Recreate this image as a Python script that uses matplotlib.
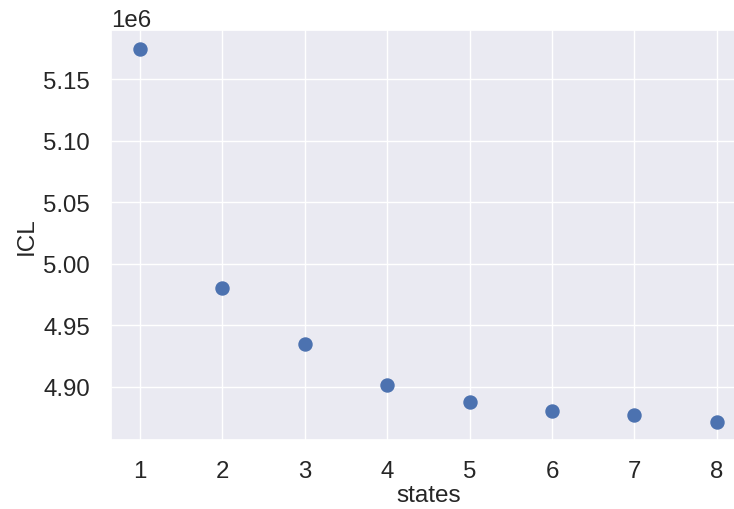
import numpy as np
import matplotlib
matplotlib.use('Agg')
import matplotlib.pyplot as plt
import seaborn as sns

# ICL score per number of hidden states
states = [1, 2, 3, 4, 5, 6, 7, 8]
icl = [5.1750e6, 4.9805e6, 4.9345e6, 4.9010e6, 4.8870e6, 4.8800e6, 4.8765e6, 4.8715e6]

sns.set_theme(style='darkgrid', font_scale=1.57)
plt.rcParams['font.family'] = ['Liberation Sans', 'DejaVu Sans']

fig, ax = plt.subplots(figsize=(7.34, 5.1), dpi=100)
ax.scatter(states, icl, s=88)
ax.set_xlabel('states', fontsize=17.5, labelpad=2)
ax.set_ylabel('ICL', fontsize=17.5)
ax.set_xticks(states)
ax.tick_params(axis='x', pad=8)
ax.tick_params(axis='y', pad=9)
fig.subplots_adjust(left=0.151, right=1.016, top=0.939, bottom=0.135)
fig.savefig('out.png')
